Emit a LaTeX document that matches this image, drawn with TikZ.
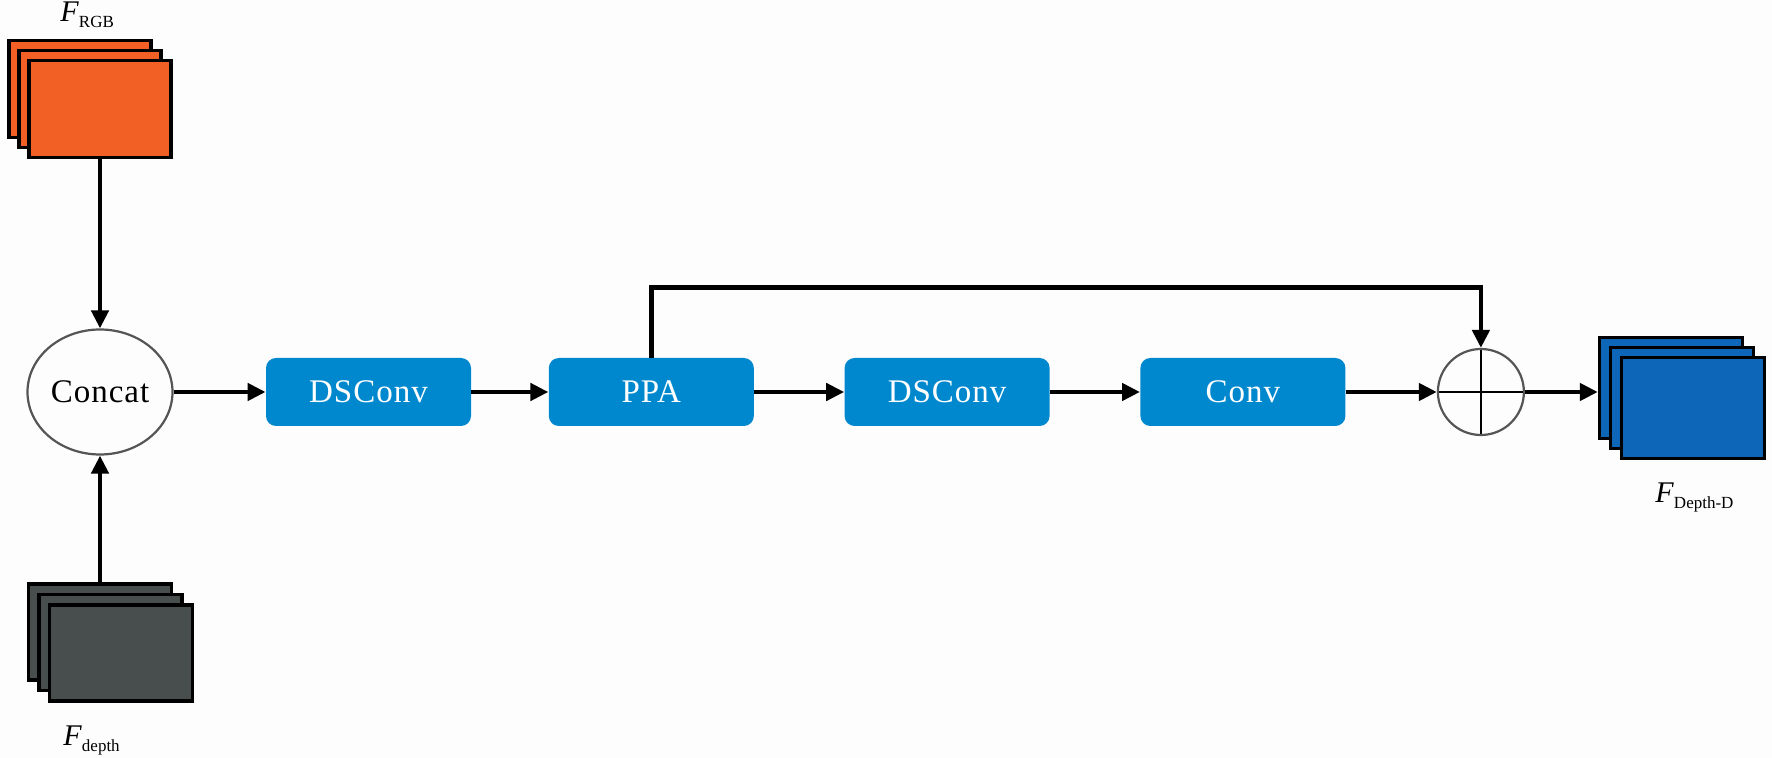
\documentclass[tikz,border=0pt]{standalone}
\usepackage{fontspec}
\setmainfont{Liberation Serif}
\usetikzlibrary{positioning,shapes.geometric,arrows.meta}

\definecolor{boxblue}{RGB}{0,136,206}
\definecolor{rgborange}{RGB}{242,96,38}
\definecolor{depthgrey}{RGB}{72,78,78}
\definecolor{outblue}{RGB}{14,102,184}
\definecolor{ringgrey}{RGB}{85,85,85}
\definecolor{paper}{RGB}{253,253,253}

\tikzset{
  flow/.style={line width=2.4pt, -{Triangle[length=9pt,width=8.5pt]}},
  block/.style={rectangle, rounded corners=5pt, fill=boxblue, text=white,
    minimum width=102.5pt, minimum height=34pt, inner sep=0,
    font=\fontsize{16.5}{18}\selectfont\addfontfeatures{LetterSpace=3}},
  card/.style={rectangle, draw=black, line width=1.7pt, inner sep=0},
  sumnode/.style={circle, draw=ringgrey, line width=1.1pt, minimum size=43pt, inner sep=0,
    path picture={\draw[black, line width=1pt]
      (path picture bounding box.north) -- (path picture bounding box.south)
      (path picture bounding box.west) -- (path picture bounding box.east);}},
  feat/.style={inner sep=0, anchor=base west, font=\fontsize{15}{16}\selectfont},
}
\newcommand{\featname}[1]{\textit{F}\raisebox{-3pt}{\fontsize{8.5}{9}\selectfont #1}}

\begin{document}
\begin{tikzpicture}[x=0.5pt, y=-0.5pt]
\fill[paper] (0,0) rectangle (1772,758);
\useasboundingbox (0,0) rectangle (1772,758);

% input features
\node[card, fill=rgborange, minimum width=71pt, minimum height=48.5pt] (rgb3) at (80,89) {};
\node[card, fill=rgborange, minimum width=71pt, minimum height=48.5pt] (rgb2) at (90,99) {};
\node[card, fill=rgborange, minimum width=71pt, minimum height=48.5pt] (rgb1) at (100,109) {};
\node[feat] (rgblabel) at (60,22) {\featname{RGB}};

\node[card, fill=depthgrey, minimum width=71.5pt, minimum height=48pt] (dep3) at (100,632) {};
\node[card, fill=depthgrey, minimum width=71.5pt, minimum height=48pt] (dep2) at (110.5,642.5) {};
\node[card, fill=depthgrey, minimum width=71.5pt, minimum height=48pt] (dep1) at (121,653) {};
\node[feat] (deplabel) at (63,745) {\featname{depth}};

% main chain
\node[ellipse, draw=ringgrey, line width=1.1pt, minimum width=72.5pt, minimum height=62.5pt,
  inner sep=0, font=\fontsize{16.5}{18}\selectfont\addfontfeatures{LetterSpace=3}] (concat) at (100,392) {Concat};
\node[block, right=46pt of concat] (dsconv1) {DSConv};
\node[block, right=38.5pt of dsconv1] (ppa) {PPA};
\node[block, right=45pt of ppa] (dsconv2) {DSConv};
\node[block, right=45pt of dsconv2] (conv) {Conv};
\node[sumnode, right=45.5pt of conv] (sum) {};

% output feature
\node[card, fill=outblue, minimum width=71.5pt, minimum height=50.5pt] (out3) at (1671,388) {};
\node[card, fill=outblue, minimum width=71.5pt, minimum height=50.5pt] (out2) at (1682,398) {};
\node[card, fill=outblue, minimum width=71.5pt, minimum height=50.5pt] (out1) at (1693,408) {};
\node[feat] (outlabel) at (1655,503) {\featname{Depth-D}};

\draw[flow] (rgb1.south) -- (concat.north);
\draw[flow] (dep3.north) -- (concat.south);
\draw[flow] (concat) -- (dsconv1);
\draw[flow] (dsconv1) -- (ppa);
\draw[flow] (ppa) -- (dsconv2);
\draw[flow] (dsconv2) -- (conv);
\draw[flow] (conv) -- (sum);
\draw[flow] (ppa.north) -- ++(0,-70) -| (sum.north);
\draw[flow] (sum.east) -- (sum.east -| out3.west);
\end{tikzpicture}
\end{document}
